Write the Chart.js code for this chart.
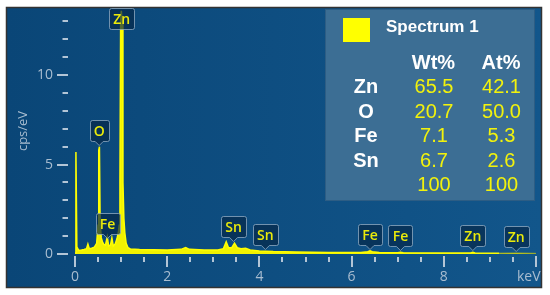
<!DOCTYPE html>
<html><head><meta charset="utf-8">
<script src="https://cdn.jsdelivr.net/npm/chart.js@4/dist/chart.umd.min.js"></script>
<style>
html,body{margin:0;padding:0;background:#fff;}
#wrap{position:relative;width:550px;height:295px;overflow:hidden;}
#c{position:absolute;left:0;top:0;}
#panel{position:absolute;left:325px;top:9px;width:210px;height:192px;background:#3c6e94;box-sizing:border-box;border:1px solid #2d5d84;}
.cell{position:absolute;text-align:center;font-family:"Liberation Sans",Arial,sans-serif;white-space:nowrap;}
</style></head>
<body><div id="wrap"><canvas id="c" width="550" height="295"></canvas><div id="panel"></div><div id="overlay"></div></div>
<script>
// ---- data ----
const energyKeV = [0.00,0.02,0.04,0.08,0.14,0.20,0.25,0.28,0.31,0.36,0.42,0.47,0.50,0.515,0.53,0.545,0.57,0.60,0.62,0.66,0.70,0.73,0.77,0.80,0.83,0.87,0.91,0.94,0.96,0.975,0.99,1.005,1.02,1.04,1.06,1.08,1.11,1.15,1.20,1.40,1.70,2.00,2.30,2.40,2.48,2.80,3.10,3.22,3.28,3.33,3.40,3.46,3.52,3.60,3.70,3.80,4.00,4.13,4.30,4.80,5.50,6.20,6.35,6.40,6.45,6.60,7.00,7.06,7.12,8.00,8.58,8.63,8.68,9.20,9.57,10.0];
const countsCps = [0.05,5.7,0.4,0.2,0.22,0.25,0.3,0.55,0.3,0.32,0.38,0.6,1.6,5.8,6.0,1.8,0.9,0.65,0.55,0.5,0.95,0.45,0.5,0.9,0.45,0.55,0.85,1.2,1.6,4.0,13.0,13.6,13.0,4.0,2.0,1.2,0.6,0.35,0.28,0.25,0.24,0.23,0.26,0.36,0.26,0.22,0.22,0.3,0.68,0.35,0.35,0.6,0.35,0.3,0.32,0.22,0.17,0.16,0.14,0.11,0.09,0.08,0.13,0.18,0.13,0.08,0.07,0.1,0.07,0.06,0.06,0.09,0.06,0.04,0.05,0.03];

const peakLabels   = ['Zn','O','Fe','Sn','Sn','Fe','Fe','Zn','Zn'];
const peakEnergies = [1.012,0.525,0.705,3.44,4.13,6.40,7.06,8.63,9.57];
const peakHeights  = [13.6,6.0,0.8,0.6,0.15,0.18,0.1,0.09,0.05];

const xTickValues = [0,0.5,1,1.5,2,2.5,3,3.5,4,4.5,5,5.5,6,6.5,7,7.5,8,8.5,9,9.5,10];
const xTickLabels = [0,2,4,6,8,10];
const yTickValues = [0,1,2,3,4,5,6,7,8,9,10,11,12,13];
const yTickLabels = [0,5,10];

const spectrumName = 'Spectrum 1';
const tableElements = ['Zn','O','Fe','Sn',''];
const wtPercent = [65.5,20.7,7.1,6.7,100];
const atPercent = [42.1,50.0,5.3,2.6,100];

// ---- table overlay (HTML text) ----
const ov = document.getElementById('overlay');
function cell(txt, cx, cy, size, weight, color, lh){
  const d = document.createElement('div');
  d.className='cell'; d.textContent = txt;
  d.style.left=(cx-45)+'px'; d.style.width='90px';
  d.style.top=(cy-lh/2)+'px'; d.style.height=lh+'px'; d.style.lineHeight=lh+'px';
  d.style.fontSize=size+'px'; d.style.fontWeight=weight; d.style.color=color;
  ov.appendChild(d);
}
const sw = document.createElement('div');
sw.style.cssText='position:absolute;left:343px;top:18px;width:27px;height:24px;background:#ffff00;';
ov.appendChild(sw);
const st = document.createElement('div');
st.className='cell'; st.textContent=spectrumName;
st.style.cssText+='left:386px;top:16px;height:22px;line-height:22px;font-size:17px;font-weight:bold;color:#fff;text-align:left;';
ov.appendChild(st);
cell('Wt%',433.5,61.7,20,'bold','#fff',24);
cell('At%',501,61.7,20,'bold','#fff',24);
const fmt = v => v===100 ? '100' : v.toFixed(1);
tableElements.forEach((el,i)=>{
  const cy = 86 + i*24.5;
  if(el) cell(el,366,cy,20,'bold','#fff',24);
  cell(fmt(wtPercent[i]),434,cy,20,'normal','#f2f20c',24);
  cell(fmt(atPercent[i]),501.5,cy,20,'normal','#f2f20c',24);
});

// ---- plugins ----
const framePlugin = {
  id:'frame',
  beforeDraw(chart){
    const ctx=chart.ctx; ctx.save();
    ctx.fillStyle='#fff'; ctx.fillRect(0,0,550,295);
    const g=ctx.createLinearGradient(7,0,541,0);
    g.addColorStop(0,'#0a4677'); g.addColorStop(1,'#12568b');
    ctx.fillStyle=g; ctx.fillRect(6,7,536,281);
    ctx.strokeStyle='#333'; ctx.lineWidth=1.5; ctx.strokeRect(6.5,7.5,535,280);
    ctx.restore();
  }
};
const tickPlugin = {
  id:'tickmarks',
  afterDraw(chart){
    const ctx=chart.ctx, xs=chart.scales.x, ys=chart.scales.y, a=chart.chartArea;
    ctx.save(); ctx.strokeStyle='#b3c5d6'; ctx.lineWidth=2;
    yTickValues.forEach(v=>{
      const y=Math.round(ys.getPixelForValue(v));
      const major=yTickLabels.includes(v);
      ctx.beginPath(); ctx.moveTo(a.left-(major?18:12.5),y); ctx.lineTo(a.left-7,y); ctx.stroke();
    });
    xTickValues.forEach(v=>{
      const x=Math.round(xs.getPixelForValue(v));
      const major=xTickLabels.includes(v);
      ctx.beginPath(); ctx.moveTo(x,a.bottom+(major?2:3)); ctx.lineTo(x,a.bottom+(major?13:8)); ctx.stroke();
    });
    ctx.restore();
  }
};
const calloutPlugin = {
  id:'callouts',
  afterDatasetsDraw(chart){
    const ctx=chart.ctx, xs=chart.scales.x, ys=chart.scales.y, a=chart.chartArea;
    ctx.save();
    ctx.font='600 14px "Open Sans"';
    peakLabels.forEach((t,i)=>{
      const x=xs.getPixelForValue(peakEnergies[i]);
      const tip=ys.getPixelForValue(peakHeights[i])-2;
      const w=Math.round(ctx.measureText(t).width+8), h=21, r=2;
      let top=tip-4-h, ptr=true;
      if(top<a.top){top=a.top; ptr=false;}
      const x0=Math.round(x-w/2)+0.5, y0=Math.round(top)+0.5, x1=x0+w, y1=y0+h;
      ctx.beginPath();
      ctx.moveTo(x0+r,y0); ctx.lineTo(x1-r,y0); ctx.quadraticCurveTo(x1,y0,x1,y0+r);
      ctx.lineTo(x1,y1-r); ctx.quadraticCurveTo(x1,y1,x1-r,y1);
      if(ptr){ ctx.lineTo(x+4,y1); ctx.lineTo(x,y1+4); ctx.lineTo(x-4,y1); }
      ctx.lineTo(x0+r,y1); ctx.quadraticCurveTo(x0,y1,x0,y1-r);
      ctx.lineTo(x0,y0+r); ctx.quadraticCurveTo(x0,y0,x0+r,y0); ctx.closePath();
      ctx.fillStyle='rgba(6,40,72,0.7)'; ctx.fill();
      ctx.strokeStyle='rgba(150,175,198,0.75)'; ctx.lineWidth=1; ctx.stroke();
      ctx.fillStyle='#eaea0a'; ctx.textAlign='center'; ctx.textBaseline='middle';
      ctx.fillText(t,x,y0+h/2+1);
    });
    ctx.restore();
  }
};

// ---- chart ----
const tickColor='#a9bdd0';
new Chart(document.getElementById('c'),{
  type:'line',
  data:{datasets:[{
    data: energyKeV.map((e,i)=>({x:e,y:countsCps[i]})),
    borderColor:'#ffff00', backgroundColor:'#f2f200', borderWidth:1.5,
    fill:'origin', pointRadius:0, tension:0,
    segment:{borderColor:c=>c.p0.parsed.x>=8.7?'rgba(160,170,40,0.6)':'#ffff00'}
  }]},
  options:{
    responsive:false, animation:false, devicePixelRatio:1,
    layout:{padding:{left:0,top:8,right:14,bottom:0}},
    plugins:{legend:{display:false},tooltip:{enabled:false}},
    scales:{
      x:{type:'linear',min:0,max:10,
        grid:{display:false,drawTicks:false}, border:{display:false},
        ticks:{stepSize:2,autoSkip:false,maxRotation:0,padding:15,color:tickColor,
          font:{family:'"Open Sans"',size:14},
          callback:v=>v===10?'keV    ':(xTickLabels.includes(v)?String(v):'')},
        afterFit(s){s.height=41;s.paddingLeft=0;s.paddingRight=0;}
      },
      y:{min:0,max:13.75,
        grid:{display:false,drawTicks:false}, border:{display:false},
        ticks:{stepSize:5,padding:22,color:tickColor,font:{family:'"Open Sans"',size:14},
          callback:v=>yTickLabels.includes(v)?String(v):''},
        title:{display:true,text:'cps/eV',color:tickColor,font:{family:'"Open Sans"',size:13},padding:{top:15,bottom:0}},
        afterFit(s){s.width=75;s.paddingTop=0;s.paddingBottom=0;}
      }
    }
  },
  plugins:[framePlugin,tickPlugin,calloutPlugin]
});
</script>
</body></html>
